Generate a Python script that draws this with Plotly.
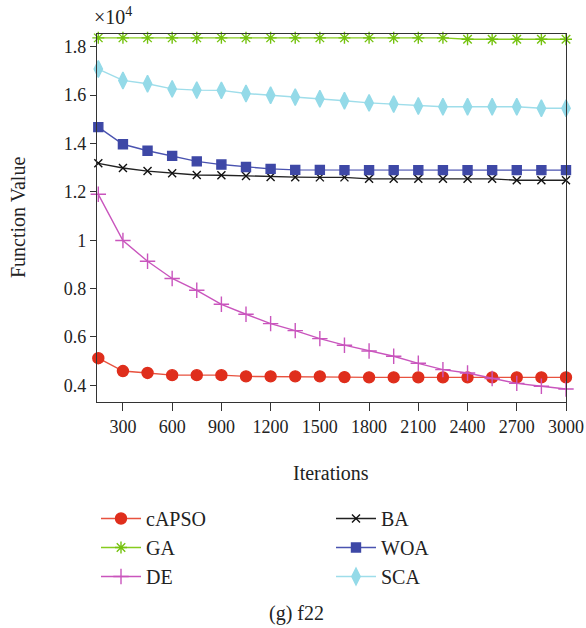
import plotly.graph_objects as go

# Iteration checkpoints and best function value (in units of 1e4)
iterations = [150 * k for k in range(1, 21)]

capso = [0.512, 0.459, 0.451, 0.442, 0.442, 0.442, 0.437, 0.437, 0.437, 0.437,
         0.434, 0.433, 0.433, 0.433, 0.433, 0.433, 0.433, 0.433, 0.433, 0.433]
ga = [1.837, 1.837, 1.837, 1.837, 1.837, 1.837, 1.837, 1.837, 1.837, 1.837,
      1.837, 1.837, 1.837, 1.837, 1.837, 1.831, 1.831, 1.831, 1.831, 1.831]
de = [1.190, 0.999, 0.913, 0.842, 0.793, 0.735, 0.694, 0.655, 0.626, 0.593,
      0.566, 0.542, 0.520, 0.491, 0.465, 0.451, 0.428, 0.408, 0.396, 0.385]
ba = [1.318, 1.299, 1.286, 1.277, 1.270, 1.269, 1.266, 1.262, 1.261, 1.260,
      1.260, 1.254, 1.254, 1.254, 1.254, 1.254, 1.254, 1.248, 1.248, 1.248]
woa = [1.468, 1.397, 1.370, 1.349, 1.326, 1.313, 1.303, 1.295, 1.291, 1.291,
       1.290, 1.290, 1.290, 1.290, 1.290, 1.290, 1.290, 1.290, 1.290, 1.290]
sca = [1.708, 1.661, 1.647, 1.626, 1.621, 1.620, 1.607, 1.600, 1.592, 1.585,
       1.577, 1.568, 1.563, 1.555, 1.552, 1.552, 1.552, 1.552, 1.546, 1.546]

x_ticks = [300, 600, 900, 1200, 1500, 1800, 2100, 2400, 2700, 3000]
y_ticks = [0.4, 0.6, 0.8, 1.0, 1.2, 1.4, 1.6, 1.8]
y_tick_text = ["0.4", "0.6", "0.8", "1", "1.2", "1.4", "1.6", "1.8"]

FONT = "Liberation Serif"
INK = "#222222"

series = [
    # name, values, line colour, marker colour, symbol, size, legend
    ("cAPSO", capso, "#E8523F", "#DF2E1C", "circle", 11, "legend"),
    ("GA", ga, "#86CC1E", "#74C20E", "asterisk-open", 10, "legend"),
    ("DE", de, "#C955BD", "#C955BD", "cross-thin-open", 11, "legend"),
    ("BA", ba, "#222222", "#111111", "x-thin-open", 8, "legend2"),
    ("WOA", woa, "#4A53B0", "#3E48A6", "square", 9, "legend2"),
    ("SCA", sca, "#9EDDEA", "#94DAE8", "diamond-tall", 12, "legend2"),
]

fig = go.Figure()
for name, vals, lc, mc, sym, size, leg in series:
    fig.add_trace(go.Scatter(
        x=iterations, y=vals, name=name, mode="lines+markers",
        line=dict(color=lc, width=1.4),
        marker=dict(symbol=sym, size=size, color=mc,
                    line=dict(color=mc, width=1.4)),
        legend=leg, cliponaxis=False,
    ))

axis_common = dict(
    showline=True, linecolor="#333333", linewidth=1.3, mirror=True,
    showgrid=False, zeroline=False, ticks="outside", tickcolor="#333333",
    tickwidth=1.3, tickfont=dict(family=FONT, size=18, color=INK),
)

legend_common = dict(
    xref="container", yref="container", xanchor="left", yanchor="top",
    orientation="v", font=dict(family=FONT, size=20, color=INK),
    itemwidth=40, tracegroupgap=0, bgcolor="rgba(0,0,0,0)",
)

# plot area in pixels: x 97..566, y 34..402
PL, PR, PT, PB = 97, 566, 34, 402


def px_x(x):
    return (x - PL) / (PR - PL)


def px_y(y):
    return (PB - y) / (PB - PT)


fig.update_layout(
    width=586, height=628,
    margin=dict(l=PL, r=586 - PR, t=PT, b=628 - PB, autoexpand=False),
    paper_bgcolor="white", plot_bgcolor="white",
    font=dict(family=FONT, color=INK),
    showlegend=True,
    xaxis=dict(range=[142, 3000], tickvals=x_ticks, ticklen=8, tickangle=0,
               **axis_common),
    yaxis=dict(range=[0.331, 1.853], tickvals=y_ticks, ticktext=y_tick_text, ticklen=6,
               **axis_common),
    legend=dict(x=96 / 586, y=1 - 499 / 628, **legend_common),
    legend2=dict(x=331 / 586, y=1 - 499 / 628, **legend_common),
    annotations=[
        dict(text="×10<sup>4</sup>", xref="paper", yref="paper",
             x=px_x(92), y=px_y(16), xanchor="left", yanchor="middle",
             showarrow=False, font=dict(family=FONT, size=20, color=INK)),
        dict(text="Function Value", xref="paper", yref="paper",
             x=px_x(18), y=px_y(218), xanchor="center", yanchor="middle",
             textangle=-90, showarrow=False, font=dict(family=FONT, size=20, color=INK)),
        dict(text="Iterations", xref="paper", yref="paper",
             x=px_x(331), y=px_y(473), xanchor="center", yanchor="middle",
             showarrow=False, font=dict(family=FONT, size=20, color=INK)),
        dict(text="(g) f22", xref="paper", yref="paper",
             x=px_x(296), y=px_y(613), xanchor="center", yanchor="middle",
             showarrow=False, font=dict(family=FONT, size=20, color=INK)),
    ],
)

fig.write_html("out.html")
